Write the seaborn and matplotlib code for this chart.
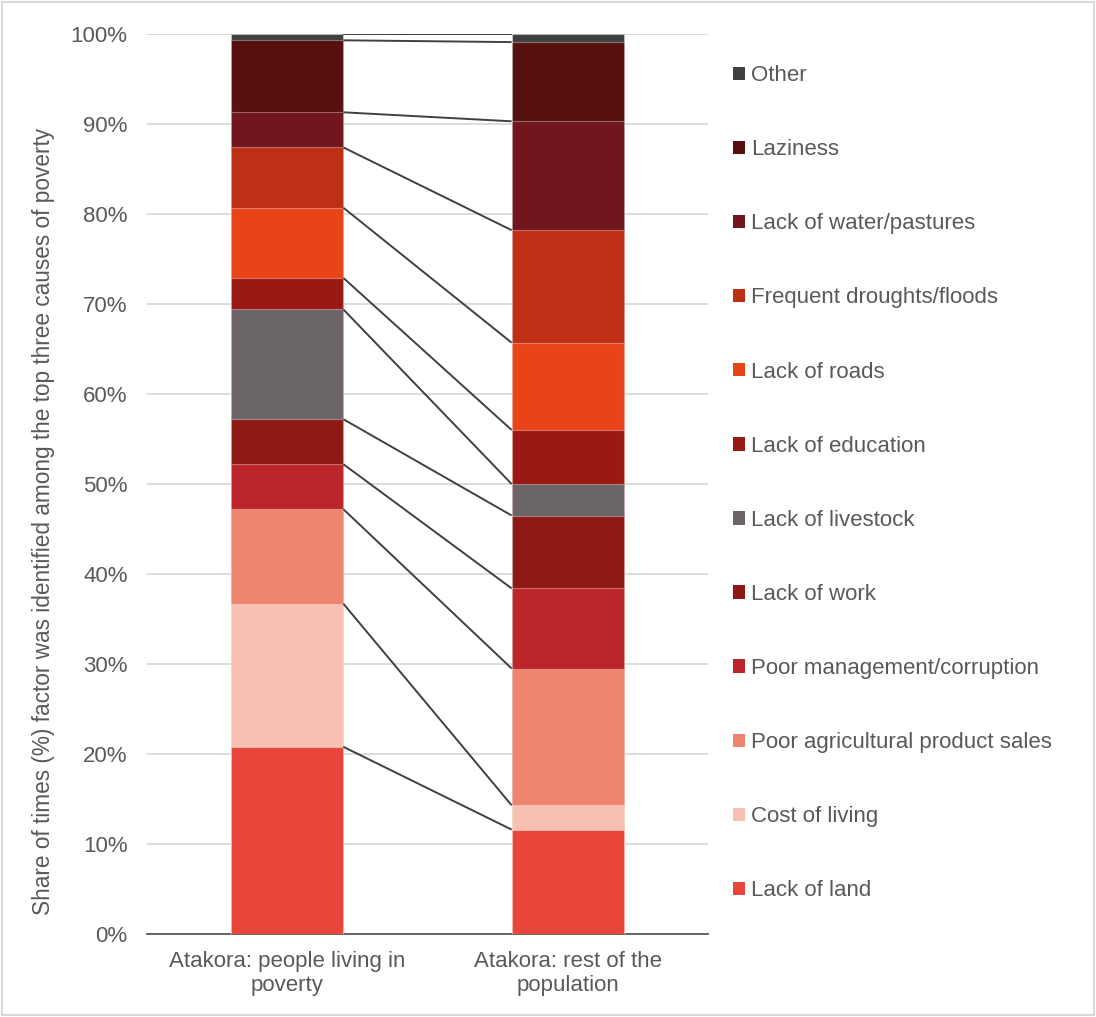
import numpy as np
import pandas as pd
import matplotlib
matplotlib.use("Agg")
import matplotlib.pyplot as plt
from matplotlib.patches import Patch, Rectangle
import seaborn as sns

# Groups compared
groups = ["Atakora: people living in\npoverty", "Atakora: rest of the\npopulation"]

# Causes, bottom of the stack first
causes = [
    "Lack of land",
    "Cost of living",
    "Poor agricultural product sales",
    "Poor management/corruption",
    "Lack of work",
    "Lack of livestock",
    "Lack of education",
    "Lack of roads",
    "Frequent droughts/floods",
    "Lack of water/pastures",
    "Laziness",
    "Other",
]

# Share (%) of times each cause was cited among the top three
poverty_share = [20.8, 15.9, 10.5, 5.0, 5.0, 12.2, 3.5, 7.8, 6.7, 3.9, 8.0, 0.7]
rest_share = [11.6, 2.7, 15.2, 8.9, 8.1, 3.5, 6.0, 9.7, 12.5, 12.1, 8.8, 0.9]

colors = [
    "#E8463A", "#F8C0B3", "#EF846E", "#BC262A", "#8E1A16", "#6B6468",
    "#9B1915", "#E94418", "#BE2F15", "#70161C", "#56100E", "#404040",
]

TEXT = "#595959"
GRID = "#D9D9D9"

sns.set_theme(style="white")
plt.rcParams["font.family"] = ["Liberation Sans", "DejaVu Sans"]

fig = plt.figure(figsize=(10.96, 10.17), dpi=100)
ax = fig.add_axes([147 / 1096, 83 / 1017, 561 / 1096, 900 / 1017])

cum_pov = np.cumsum(poverty_share)
cum_rest = np.cumsum(rest_share)

# Stacked bars: draw cumulative totals from the top layer down
for i in range(len(causes) - 1, -1, -1):
    layer = pd.DataFrame({"group": groups, "value": [cum_pov[i], cum_rest[i]]})
    sns.barplot(
        data=layer, x="group", y="value", order=groups, color=colors[i],
        saturation=1, width=0.4, errorbar=None, ax=ax,
        edgecolor=(1, 1, 1, 0.35), linewidth=0.8, zorder=3,
    )

# Series connector lines between the two bars
for a, b in zip(cum_pov, cum_rest):
    ax.plot([0.2, 0.8], [a, b], color="#404040", lw=1.4, zorder=4,
            solid_capstyle="butt")

ax.set_xlim(-0.5, 1.5)
ax.set_ylim(0, 100)
ax.set_yticks(np.arange(0, 101, 10))
ax.set_yticklabels([f"{v}%" for v in range(0, 101, 10)])
ax.yaxis.grid(True, color=GRID, lw=1.3, zorder=0)
ax.set_axisbelow(True)
for side in ["top", "right", "left"]:
    ax.spines[side].set_visible(False)
ax.spines["bottom"].set_color(TEXT)
ax.spines["bottom"].set_linewidth(1.3)
ax.tick_params(axis="y", length=0, pad=14, labelsize=16, labelcolor=TEXT)
ax.tick_params(axis="x", length=0, pad=12, labelsize=16, labelcolor=TEXT)
ax.set_xlabel("")
ax.set_ylabel("")

fig.text(
    44 / 1096, 1 - 521.5 / 1017,
    "Share of times (%) factor was identified among the top three causes of poverty",
    rotation=90, ha="center", va="center", fontsize=16.3, color=TEXT,
)

# Legend: top of the stack listed first
handles = [Patch(facecolor=colors[i], edgecolor="none", label=causes[i])
           for i in range(len(causes) - 1, -1, -1)]
fig.legend(
    handles=handles, loc="upper left", bbox_to_anchor=(722 / 1096, 1 - 54 / 1017),
    frameon=False, fontsize=16, labelcolor=TEXT, labelspacing=2.39,
    handlelength=0.55, handleheight=0.55, handletextpad=0.25, borderpad=0,
)

# Outer chart border
fig.patches.append(Rectangle((0.002, 0.002), 0.996, 0.996, transform=fig.transFigure,
                             fill=False, edgecolor=GRID, lw=1.5))

fig.savefig("out.png", dpi=100, facecolor="white")
